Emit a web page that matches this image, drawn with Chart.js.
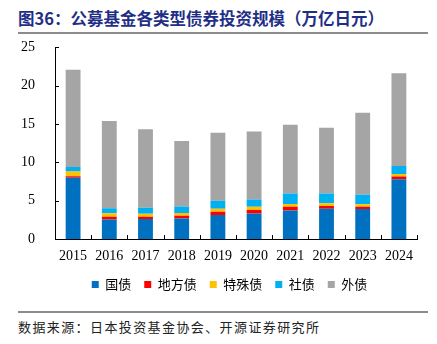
<!DOCTYPE html>
<html>
<head>
<meta charset="utf-8">
<script src="https://cdn.jsdelivr.net/npm/chart.js@4/dist/chart.umd.min.js"></script>
<style>
  body { margin: 0; width: 437px; height: 344px; background: #fff; position: relative; overflow: hidden; }
  .title { position: absolute; left: 18px; top: 6px; font: bold 16.5px "Noto Sans CJK SC", sans-serif; color: #1f2f86; white-space: nowrap; }
  .rule { position: absolute; left: 18px; width: 410px; height: 2px; background: #8c8c8c; }
  .source { position: absolute; left: 18px; top: 317px; font: 13px "Noto Sans CJK SC", sans-serif; letter-spacing: 1.4px; color: #222; white-space: nowrap; }
  #wrap { position: absolute; left: 0; top: 27px; width: 437px; height: 277px; }
</style>
</head>
<body>
<div class="title">图36：公募基金各类型债券投资规模（万亿日元）</div>
<div class="rule" style="top:32px"></div>
<div id="wrap"><canvas id="chart"></canvas></div>
<div class="rule" style="top:311px"></div>
<div class="source">数据来源：日本投资基金协会、开源证券研究所</div>
<script>
// years on the x axis
const years = ['2015', '2016', '2017', '2018', '2019', '2020', '2021', '2022', '2023', '2024'];

// trillion yen
const govBonds     = [8.0, 2.55, 2.6, 2.68, 3.12, 3.33, 3.72, 3.94, 3.9, 7.8];
const localBonds   = [0.2, 0.35, 0.3, 0.35, 0.43, 0.44, 0.48, 0.38, 0.3, 0.34];
const specialBonds = [0.6, 0.45, 0.4, 0.35, 0.4, 0.43, 0.38, 0.36, 0.34, 0.34];
const corpBonds    = [0.6, 0.65, 0.77, 0.87, 1.05, 0.95, 1.35, 1.25, 1.22, 1.04];
const foreignBonds = [12.7, 11.4, 10.25, 8.55, 8.85, 8.88, 8.97, 8.6, 10.7, 12.1];

const yTicks = [0, 5, 10, 15, 20, 25];

const seriesNames = ['国债', '地方债', '特殊债', '社债', '外债'];
const seriesColors = ['#0070c0', '#ff0000', '#ffc000', '#00b0f0', '#a5a5a5'];
const seriesData = [govBonds, localBonds, specialBonds, corpBonds, foreignBonds];

// small tick marks pointing into the plot, like the original
const innerTicks = {
    id: 'innerTicks',
    afterLayout(chart) {
        // legend in the original sits a bit right of centre and a little higher
        const lg = chart.legend;
        lg.left += 16;
        lg.right += 16;
        lg.top -= 3;
        lg.bottom -= 3;
        lg.adjustHitBoxes();
    },
    afterDraw(chart) {
        const ctx = chart.ctx;
        const x = chart.scales.x, y = chart.scales.y;
        const step = x.getPixelForValue(1) - x.getPixelForValue(0);
        ctx.save();
        ctx.strokeStyle = '#000';
        ctx.lineWidth = 1;
        ctx.beginPath();
        yTicks.forEach(v => {
            const py = Math.round(y.getPixelForValue(v)) + 0.5;
            ctx.moveTo(x.left, py);
            ctx.lineTo(x.left + 4, py);
        });
        for (let i = 0; i < years.length; i++) {
            const px = Math.round(x.getPixelForValue(i) + step / 2) + 0.5;
            ctx.moveTo(px, y.bottom);
            ctx.lineTo(px, y.bottom - 4);
        }
        ctx.stroke();
        ctx.restore();
    }
};

new Chart(document.getElementById('chart'), {
    type: 'bar',
    data: {
        labels: years,
        datasets: seriesNames.map((name, i) => ({
            label: name,
            data: seriesData[i],
            backgroundColor: seriesColors[i],
            borderWidth: 0,
            barPercentage: 0.41,
            categoryPercentage: 1
        }))
    },
    options: {
        responsive: true,
        maintainAspectRatio: false,
        animation: false,
        layout: { padding: { top: 0, right: 20, left: 10, bottom: 0 } },
        scales: {
            x: {
                stacked: true,
                afterFit: (s) => { s.height = 29; },
                grid: { display: false },
                border: { color: '#000', width: 1 },
                ticks: { color: '#000', font: { family: 'Liberation Serif', size: 14 }, padding: 1, maxRotation: 0 }
            },
            y: {
                stacked: true,
                min: 0,
                max: 25,
                afterBuildTicks: (s) => { s.ticks = yTicks.map(v => ({ value: v })); },
                afterFit: (s) => { s.width = 45; },
                grid: { display: false },
                border: { color: '#000', width: 1 },
                ticks: { color: '#000', font: { family: 'Liberation Serif', size: 14 }, padding: 12 }
            }
        },
        plugins: {
            legend: {
                position: 'bottom',
                labels: {
                    boxWidth: 7,
                    boxHeight: 7,
                    padding: 13,
                    color: '#000',
                    font: { family: 'Noto Sans CJK SC', size: 13 }
                }
            },
            tooltip: { enabled: false }
        }
    },
    plugins: [innerTicks]
});
</script>
</body>
</html>
